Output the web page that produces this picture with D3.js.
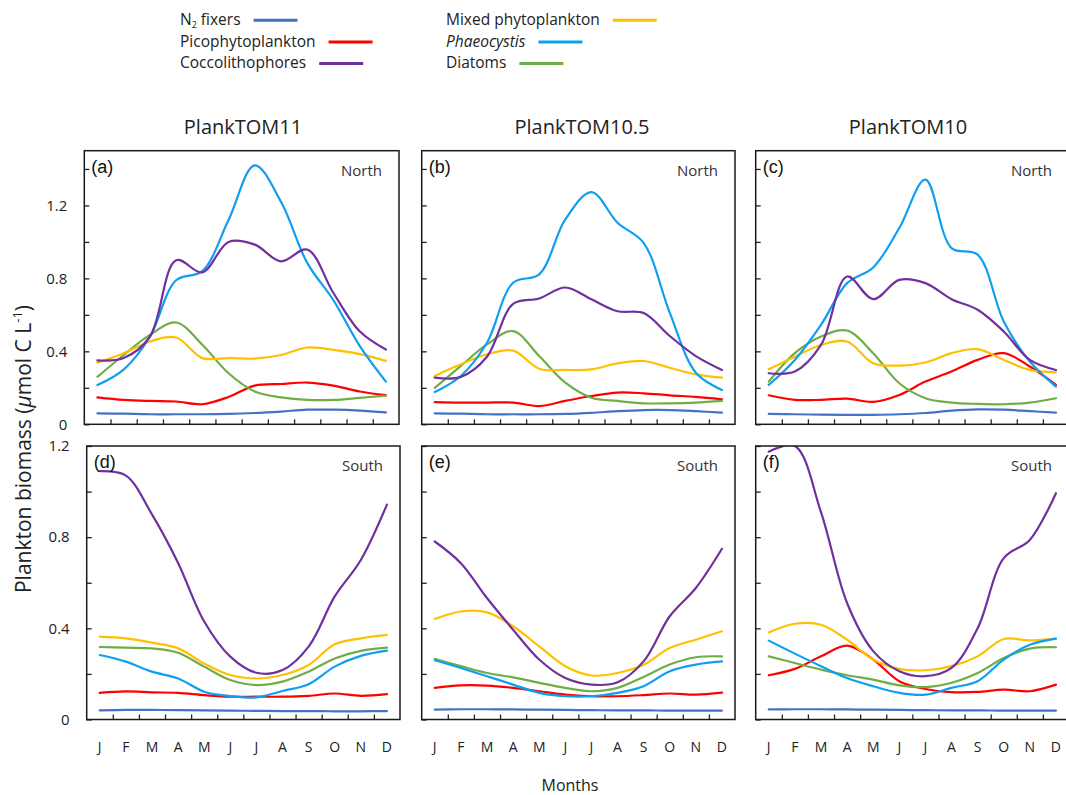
<!DOCTYPE html>
<html><head><meta charset="utf-8">
<script src="https://cdn.jsdelivr.net/npm/d3@7"></script>
<style>body{margin:0;background:#fff} svg{display:block}</style>
</head><body>
<svg id="chart" width="1066" height="795"></svg>
<script>
// ---------- data ----------
const months = ["J","F","M","A","M","J","J","A","S","O","N","D"];
const seriesNames = ["N2 fixers","Picophytoplankton","Coccolithophores","Mixed phytoplankton","Phaeocystis","Diatoms"];
const seriesColors = ["#4472C4","#FF0000","#7030A0","#FFC000","#0F9FF0","#70AD47"];
const models = ["PlankTOM11","PlankTOM10.5","PlankTOM10"];
const panelLetters = ["(a)","(b)","(c)","(d)","(e)","(f)"];
const regions = ["North","South"];
const northTicks = [0,0.2,0.4,0.6,0.8,1.0,1.2,1.4];
const southTicks = [0,0.2,0.4,0.6,0.8,1.0,1.2];
const labelledTicks = [0,0.4,0.8,1.2];

// rows in seriesNames order: N2, Pico, Cocco, Mixed, Phaeo, Diatoms
const tom11North = [
  [0.060,0.058,0.055,0.055,0.055,0.057,0.062,0.070,0.080,0.080,0.075,0.065],
  [0.148,0.134,0.128,0.125,0.110,0.150,0.212,0.221,0.229,0.212,0.180,0.160],
  [0.350,0.363,0.480,0.900,0.833,1.000,0.985,0.893,0.958,0.720,0.510,0.410],
  [0.338,0.390,0.454,0.476,0.363,0.363,0.360,0.380,0.421,0.408,0.385,0.348],
  [0.215,0.300,0.480,0.790,0.840,1.120,1.420,1.220,0.885,0.680,0.430,0.234],
  [0.260,0.380,0.490,0.558,0.436,0.280,0.180,0.148,0.134,0.134,0.145,0.157]
];
const tom105North = [
  [0.060,0.058,0.055,0.055,0.055,0.057,0.063,0.072,0.078,0.078,0.072,0.064],
  [0.122,0.119,0.119,0.119,0.100,0.128,0.155,0.174,0.170,0.159,0.150,0.137],
  [0.256,0.260,0.370,0.660,0.690,0.750,0.685,0.620,0.610,0.484,0.374,0.298],
  [0.265,0.329,0.384,0.404,0.305,0.298,0.301,0.334,0.347,0.310,0.274,0.256],
  [0.177,0.265,0.447,0.776,0.822,1.123,1.273,1.105,0.995,0.612,0.283,0.188],
  [0.200,0.320,0.438,0.511,0.374,0.228,0.146,0.128,0.115,0.115,0.119,0.128]
];
const tom10North = [
  [0.057,0.055,0.053,0.052,0.052,0.055,0.062,0.075,0.082,0.080,0.072,0.064],
  [0.159,0.134,0.134,0.141,0.123,0.161,0.234,0.289,0.353,0.390,0.317,0.216],
  [0.280,0.289,0.435,0.810,0.686,0.792,0.774,0.686,0.628,0.509,0.353,0.298],
  [0.302,0.371,0.435,0.454,0.335,0.322,0.339,0.390,0.412,0.353,0.298,0.285],
  [0.216,0.353,0.545,0.774,0.860,1.076,1.341,0.966,0.930,0.564,0.344,0.207],
  [0.234,0.390,0.481,0.514,0.390,0.225,0.143,0.119,0.112,0.110,0.119,0.143]
];
const tom11South = [
  [0.040,0.042,0.042,0.041,0.040,0.039,0.038,0.037,0.037,0.036,0.036,0.037],
  [0.117,0.123,0.119,0.117,0.107,0.100,0.100,0.100,0.104,0.114,0.104,0.111],
  [1.090,1.070,0.900,0.687,0.430,0.276,0.205,0.217,0.320,0.540,0.700,0.943],
  [0.364,0.356,0.337,0.312,0.246,0.195,0.180,0.195,0.239,0.330,0.356,0.371],
  [0.283,0.254,0.210,0.180,0.122,0.103,0.097,0.125,0.155,0.232,0.279,0.302],
  [0.318,0.315,0.312,0.293,0.232,0.173,0.151,0.166,0.210,0.268,0.301,0.315]
];
const tom105South = [
  [0.043,0.045,0.045,0.044,0.043,0.042,0.041,0.040,0.040,0.039,0.039,0.039],
  [0.139,0.150,0.149,0.139,0.124,0.109,0.102,0.102,0.107,0.114,0.109,0.118],
  [0.781,0.686,0.533,0.394,0.263,0.182,0.153,0.163,0.255,0.453,0.577,0.749],
  [0.441,0.474,0.470,0.409,0.321,0.234,0.193,0.204,0.240,0.314,0.350,0.387],
  [0.260,0.226,0.190,0.153,0.117,0.102,0.102,0.117,0.146,0.212,0.241,0.255],
  [0.266,0.234,0.204,0.185,0.161,0.139,0.124,0.139,0.187,0.241,0.273,0.277]
];
const tom10South = [
  [0.044,0.045,0.045,0.044,0.043,0.042,0.041,0.040,0.040,0.039,0.039,0.039],
  [0.194,0.222,0.277,0.324,0.263,0.168,0.134,0.120,0.121,0.131,0.124,0.153],
  [1.175,1.200,0.910,0.511,0.300,0.212,0.190,0.226,0.400,0.708,0.788,0.993],
  [0.382,0.420,0.416,0.350,0.263,0.222,0.216,0.234,0.277,0.353,0.347,0.355],
  [0.346,0.289,0.234,0.182,0.146,0.117,0.109,0.139,0.168,0.263,0.328,0.355],
  [0.277,0.248,0.219,0.194,0.175,0.150,0.142,0.161,0.204,0.270,0.311,0.317]
];

// ---------- layout ----------
const svg = d3.select("#chart");
const FONT = "'Open Sans', 'DejaVu Sans', sans-serif";
const TXT = "#222";
const panels = [
  {data: tom11North,  x0: 84.3,  x1: 399,  y0: 150.7, y1: 424.3, max: 1.5, ticks: northTicks, region: 0, col: 0},
  {data: tom105North, x0: 421.7, x1: 735,  y0: 150.7, y1: 424.3, max: 1.5, ticks: northTicks, region: 0, col: 1},
  {data: tom10North,  x0: 755.7, x1: 1069, y0: 150.7, y1: 424.3, max: 1.5, ticks: northTicks, region: 0, col: 2},
  {data: tom11South,  x0: 86.7,  x1: 400,  y0: 446,   y1: 719.5, max: 1.2, ticks: southTicks, region: 1, col: 0},
  {data: tom105South, x0: 421.7, x1: 735,  y0: 446,   y1: 719.5, max: 1.2, ticks: southTicks, region: 1, col: 1},
  {data: tom10South,  x0: 755.7, x1: 1069, y0: 446,   y1: 719.5, max: 1.2, ticks: southTicks, region: 1, col: 2}
];
const drawOrder = [0,1,5,3,4,2];

panels.forEach((p, pi) => {
  const g = svg.append("g");
  const x = d3.scaleLinear().domain([0, 12]).range([p.x0, p.x1]);
  const y = d3.scaleLinear().domain([0, p.max]).range([p.y1, p.y0]);

  const clipId = "clip" + pi;
  svg.append("clipPath").attr("id", clipId).append("rect")
    .attr("x", p.x0).attr("y", p.y0).attr("width", p.x1 - p.x0).attr("height", p.y1 - p.y0);

  // x axis ticks (inward) at month boundaries
  const xAxis = d3.axisBottom(x).tickValues(d3.range(1, 12)).tickSize(-5).tickFormat("");
  const gx = g.append("g").attr("transform", `translate(0,${p.y1})`).call(xAxis);
  gx.select(".domain").remove();
  gx.selectAll("line").attr("stroke", "#222").attr("stroke-width", 1.3);

  // y axis ticks (inward)
  const yAxis = d3.axisLeft(y).tickValues(p.ticks).tickSize(-5).tickPadding(17)
    .tickFormat(d => (p.col === 0 && labelledTicks.some(v => Math.abs(v - d) < 1e-9)) ? (d === 0 ? "0" : d3.format(".1f")(d)) : "");
  const gy = g.append("g").attr("transform", `translate(${p.x0},0)`).call(yAxis);
  gy.select(".domain").remove();
  gy.selectAll("line").attr("stroke", "#222").attr("stroke-width", 1.3);
  gy.selectAll("text").attr("font-family", FONT).attr("font-size", 15).attr("fill", TXT);

  // month labels for bottom row
  if (p.region === 1) {
    g.selectAll(".mlab").data(months).enter().append("text")
      .attr("x", (d, i) => x(i + 0.5)).attr("y", 752)
      .attr("text-anchor", "middle").attr("font-family", FONT).attr("font-size", 14)
      .attr("fill", TXT).text(d => d);
  }

  // lines
  const line = d3.line().x((d, i) => x(i + 0.5)).y(d => y(d)).curve(d3.curveCatmullRom.alpha(0.5));
  const lg = g.append("g").attr("clip-path", `url(#${clipId})`);
  drawOrder.forEach(si => {
    lg.append("path").datum(p.data[si]).attr("d", line)
      .attr("fill", "none").attr("stroke", seriesColors[si]).attr("stroke-width", 2.2)
      .attr("stroke-linejoin", "round").attr("stroke-linecap", "round");
  });

  // frame
  g.append("rect").attr("x", p.x0).attr("y", p.y0).attr("width", p.x1 - p.x0).attr("height", p.y1 - p.y0)
    .attr("fill", "none").attr("stroke", "#1a1a1a").attr("stroke-width", 1.5);

  // panel letter and region
  g.append("text").attr("x", p.x0 + 7).attr("y", p.y0 + 22)
    .attr("font-family", "'Liberation Sans', Arial, sans-serif").attr("font-size", 18).attr("fill", "#111")
    .text(panelLetters[pi]);
  g.append("text").attr("x", p.x1 - 17).attr("y", p.y0 + 25).attr("text-anchor", "end")
    .attr("font-family", FONT).attr("font-size", 15).attr("fill", "#333")
    .text(regions[p.region]);
});

// model titles
const titleX = [243, 582, 908];
models.forEach((m, i) => {
  svg.append("text").attr("x", titleX[i]).attr("y", 134).attr("text-anchor", "middle")
    .attr("font-family", FONT).attr("font-size", 20).attr("fill", TXT).text(m);
});

// axis titles
svg.append("text").attr("x", 570).attr("y", 791).attr("text-anchor", "middle")
  .attr("font-family", FONT).attr("font-size", 16).attr("fill", TXT).text("Months");

const yl = svg.append("text").attr("transform", "translate(31,449) rotate(-90)").attr("text-anchor", "middle")
  .attr("font-family", FONT).attr("font-size", 21).attr("fill", TXT);
yl.append("tspan").text("Plankton biomass (");
yl.append("tspan").attr("font-style", "italic").text("\u03BC");
yl.append("tspan").text("mol C L");
yl.append("tspan").attr("font-size", 13).attr("dy", -9).text("-1");
yl.append("tspan").attr("dy", 9).text(")");

// legend
const legCols = [180, 446];
const legRows = [25, 46.7, 68.3];
seriesNames.forEach((name, i) => {
  const col = Math.floor(i / 3), row = i % 3;
  const t = svg.append("text").attr("x", legCols[col]).attr("y", legRows[row])
    .attr("font-family", FONT).attr("font-size", 15.5).attr("fill", TXT);
  if (name === "N2 fixers") {
    t.append("tspan").text("N");
    t.append("tspan").attr("font-size", 9).attr("dy", 2.5).text("2");
    t.append("tspan").attr("dy", -2.5).text(" fixers");
  } else if (name === "Phaeocystis") {
    t.attr("font-style", "italic").text(name);
  } else {
    t.text(name);
  }
  const w = t.node().getComputedTextLength();
  const lx = legCols[col] + w + 13;
  svg.append("line").attr("x1", lx).attr("x2", lx + 44)
    .attr("y1", legRows[row] - 4.7).attr("y2", legRows[row] - 4.7)
    .attr("stroke", seriesColors[i]).attr("stroke-width", 3);
});
</script>
</body></html>
